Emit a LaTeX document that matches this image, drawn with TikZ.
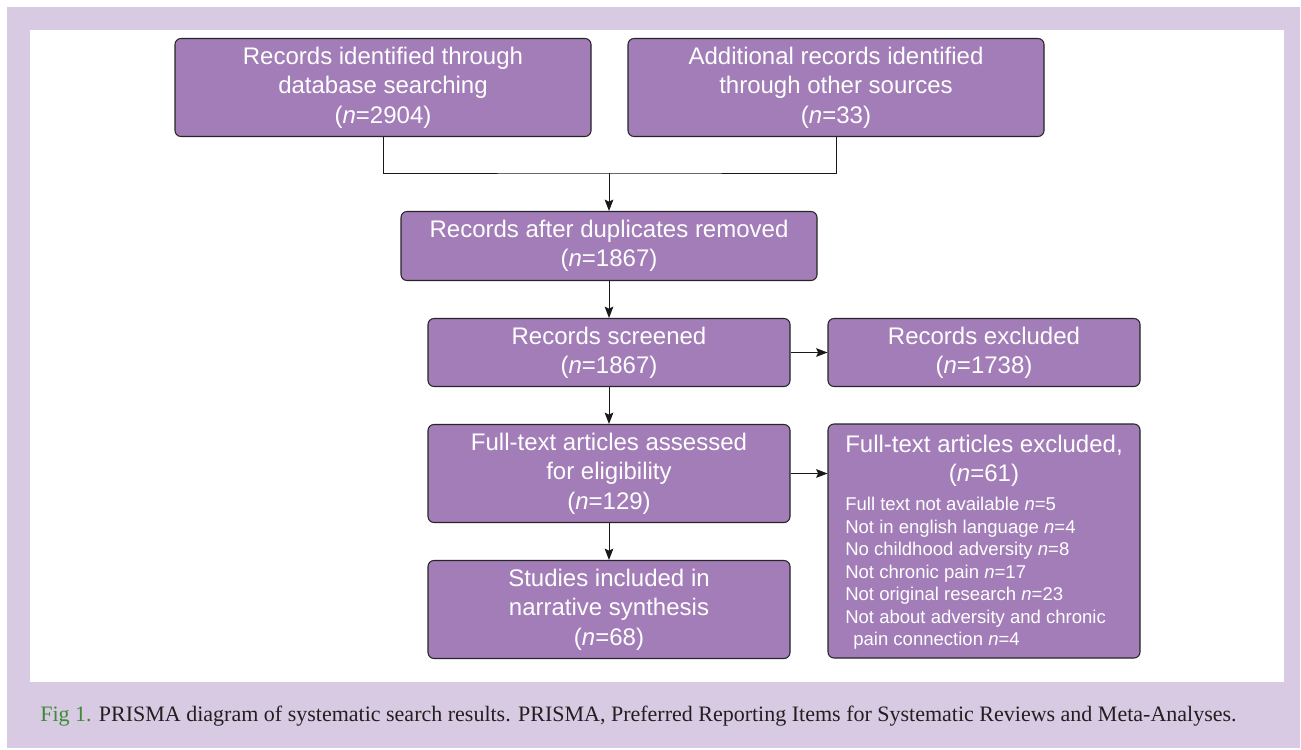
\documentclass[tikz,border=0pt]{standalone}
\usepackage{fontspec}
\setmainfont{Liberation Sans}
\newfontfamily\capfont{Liberation Serif}
\usetikzlibrary{arrows.meta}
\definecolor{bgpurple}{HTML}{D8CAE3}
\definecolor{boxpurple}{HTML}{A27DB7}
\definecolor{figgreen}{HTML}{3E8A35}
\definecolor{captext}{HTML}{231F20}
\tikzset{
  pbox/.style={draw=black!85, line width=0.8pt, fill=boxpurple, rounded corners=4.5pt,
    text=white, align=center, font=\fontsize{18}{22}\selectfont, inner sep=0pt},
  conn/.style={draw=black!90, line width=0.75pt},
  arr/.style={conn, -{Stealth[length=8.5pt,width=6.5pt,inset=1.5pt]}},
}
\begin{document}
\begin{tikzpicture}[x=0.75pt,y=-0.75pt]
\useasboundingbox (0,0) rectangle (1301,749);
\fill[bgpurple] (7,7) rectangle (1300,748);
\fill[white] (30,30) rectangle (1284,682);

\node[pbox, minimum width=312pt, minimum height=73.5pt] (b1) at (383,87.5)
  {Records identified through\\database searching\\(\textit{n}=2904)};
\node[pbox, minimum width=312pt, minimum height=73.5pt] (b2) at (836,87.5)
  {Additional records identified\\through other sources\\(\textit{n}=33)};
\node[pbox, minimum width=312pt, minimum height=51.75pt] (b3) at (609,246)
  {Records after duplicates removed\\(\textit{n}=1867)};
\node[pbox, minimum width=271.5pt, minimum height=51pt] (b4) at (609,352.5)
  {Records screened\\(\textit{n}=1867)};
\node[pbox, minimum width=234pt, minimum height=51pt] (b5) at (984,352.5)
  {Records excluded\\(\textit{n}=1738)};
\node[pbox, minimum width=271.5pt, minimum height=73.5pt] (b6) at (609,473.5)
  {Full-text articles assessed\\for eligibility\\(\textit{n}=129)};
\node[pbox, minimum width=271.5pt, minimum height=73.5pt] (b8) at (609,609.5)
  {Studies included in\\narrative synthesis\\(\textit{n}=68)};
\node[pbox, minimum width=234pt, minimum height=175.5pt] (b7) at (984,541) {};
\node[text=white, align=center, font=\fontsize{18}{22}\selectfont, inner sep=0pt, anchor=north]
  (b7t) at (984,435) {Full-text articles excluded,\\(\textit{n}=61)};
\node[text=white, align=left, font=\fontsize{13.9}{16.9}\selectfont, inner sep=0pt, anchor=north west]
  (b7l) at (845,497) {Full text not available \textit{n}=5\\
Not in english language \textit{n}=4\\
No childhood adversity \textit{n}=8\\
Not chronic pain \textit{n}=17\\
Not original research \textit{n}=23\\
Not about adversity and chronic\\
\hspace*{6pt}pain connection \textit{n}=4};

\coordinate (j) at (609,173);
\draw[conn] (b1.south) |- (j) -| (b2.south);
\draw[arr] (j) -- (b3.north);
\draw[arr] (b3.south) -- (b4.north);
\draw[arr] (b4.east) -- (b5.west);
\draw[arr] (b4.south) -- (b6.north);
\draw[arr] (b6.east) -- (b6.east -| b7.west);
\draw[arr] (b6.south) -- (b8.north);

\node[anchor=west, inner sep=0pt, font=\capfont\fontsize{16.5}{20}\selectfont, text=captext] (cap) at (40,716)
  {\textcolor{figgreen}{Fig 1.} PRISMA diagram of systematic search results. PRISMA, Preferred Reporting Items for Systematic Reviews and Meta-Analyses.};
\end{tikzpicture}
\end{document}
